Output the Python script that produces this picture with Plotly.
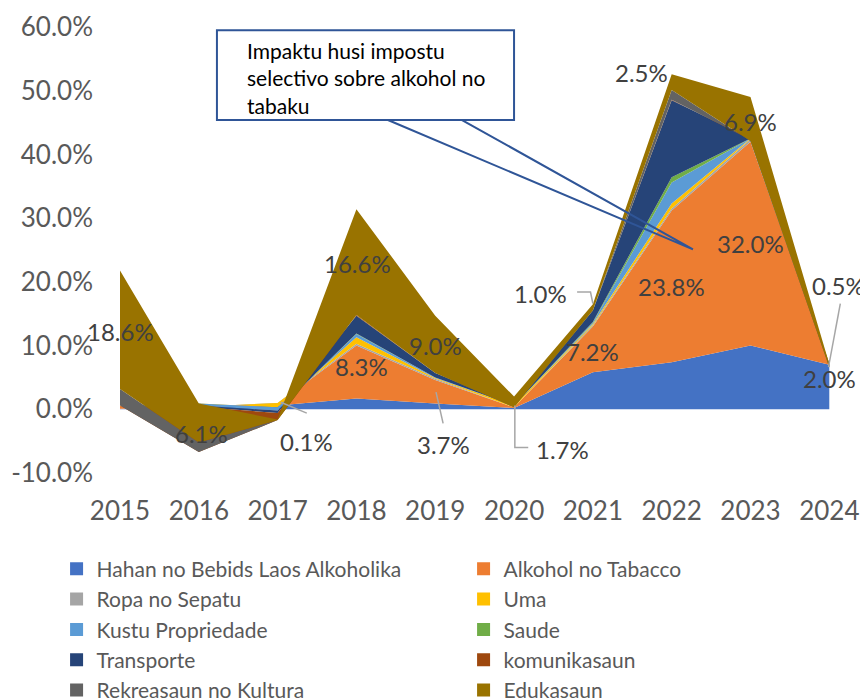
import plotly.graph_objects as go

YEARS = [2015, 2016, 2017, 2018, 2019, 2020, 2021, 2022, 2023, 2024]

# contributions (percentage points), stacked bottom to top
HAHAN = [0.1, 0.2, 0.6, 1.7, 0.9, 0.2, 5.8, 7.4, 10.0, 7.0]
ALKOHOL = [0.4, 0.1, 0.3, 8.3, 3.7, 0.1, 7.2, 23.8, 32.0, 0.0]
ROPA = [0.0, 0.1, 0.1, 0.3, 0.2, 0.0, 0.2, 0.3, 0.4, 0.0]
UMA = [0.0, 0.5, -0.7, 1.0, 0.1, 0.3, 0.2, 0.8, 0.1, 0.2]
KUSTU = [0.0, -0.3, -0.5, 0.5, 0.1, 0.0, 0.2, 3.3, 0.0, 0.0]
SAUDE = [0.0, 0.0, 0.0, 0.1, 0.0, 0.0, 0.1, 0.8, 0.0, 0.0]
TRANSPORTE = [0.0, -0.2, -0.4, 2.8, 0.7, 0.0, 1.8, 12.1, 0.0, 0.0]
KOMUNIKASAUN = [0.1, -7.1, -1.1, 0.1, 0.0, 0.0, 0.0, 0.1, -0.2, 0.0]
REKREASAUN = [2.6, 1.5, 0.0, 0.0, 0.0, -0.3, 0.0, 1.5, -0.2, -0.6]
EDUKASAUN = [18.6, 6.1, 0.1, 16.6, 9.0, 1.7, 1.0, 2.5, 6.9, 0.5]

SERIES_NAMES = ['Hahan no Bebids Laos Alkoholika', 'Alkohol no Tabacco', 'Ropa no Sepatu', 'Uma',
                'Kustu Propriedade', 'Saude', 'Transporte', 'komunikasaun',
                'Rekreasaun no Kultura', 'Edukasaun']
SERIES_VALUES = [HAHAN, ALKOHOL, ROPA, UMA, KUSTU, SAUDE, TRANSPORTE, KOMUNIKASAUN,
                 REKREASAUN, EDUKASAUN]
COLORS = ['#4472C4', '#ED7D31', '#A5A5A5', '#FFC000', '#5B9BD5', '#70AD47', '#264478',
          '#9E480E', '#636363', '#997300']

Y_TICKS = [-10, 0, 10, 20, 30, 40, 50, 60]
Y_TICK_TEXT = ['-10.0%', '0.0%', '10.0%', '20.0%', '30.0%', '40.0%', '50.0%', '60.0%']

NOTE = 'Impaktu husi impostu<br>selectivo sobre alkohol no<br>tabaku'

FONT = 'Lato, Calibri, sans-serif'

# data labels: text, year, value (where the text sits)
LABELS = [
    ('18.6%', 2015.01, 12.2), ('6.1%', 2016.04, -3.8), ('16.6%', 2018.01, 22.9),
    ('8.3%', 2018.07, 6.75), ('9.0%', 2019.0, 10.0), ('7.2%', 2021.0, 9.1),
    ('23.8%', 2022.0, 19.3), ('2.5%', 2021.62, 52.9), ('32.0%', 2023.0, 26.0),
    ('6.9%', 2023.0, 45.2), ('2.0%', 2024.0, 4.9),
    ('0.1%', 2017.37, -5.0), ('3.7%', 2019.1, -5.5), ('1.7%', 2020.62, -6.3),
    ('1.0%', 2020.33, 18.2), ('0.5%', 2024.12, 19.5),
]

# leader lines for moved labels
LEADERS = [
    [(2017.04, 1.1), (2017.37, -0.6)],
    [(2019.01, 2.7), (2019.10, -2.2)],
    [(2020.01, 0.6), (2020.01, -6.0), (2020.18, -6.0)],
    [(2020.80, 18.4), (2020.97, 18.4), (2021.0, 16.6)],
    [(2024.14, 16.6), (2023.99, 6.6)],
]


def path_of(points):
    return 'M' + ' L'.join(f'{x},{y}' for x, y in points)


fig = go.Figure()

for name, values, color in zip(SERIES_NAMES, SERIES_VALUES, COLORS):
    fig.add_trace(go.Scatter(
        x=YEARS, y=values, name=name, stackgroup='one', mode='lines',
        line=dict(width=0, color=color), fillcolor=color, showlegend=False,
        hoverinfo='skip'))

# legend entries with square swatches
for name, color in zip(SERIES_NAMES, COLORS):
    fig.add_trace(go.Scatter(
        x=[None], y=[None], name=name, mode='markers',
        marker=dict(symbol='square', size=13, color=color)))

annotations = []
for text, x, y in LABELS:
    annotations.append(dict(x=x, y=y, xref='x', yref='y', text=text, showarrow=False,
                            font=dict(family=FONT, size=24, color='#404040')))

annotations.append(dict(x=2016.59, y=58.6, xref='x', yref='y', text=NOTE, showarrow=False,
                        xanchor='left', yanchor='top', align='left',
                        font=dict(family=FONT, size=21, color='#000000')))

shapes = []
for pts in LEADERS:
    shapes.append(dict(type='path', path=path_of(pts), xref='x', yref='y',
                       line=dict(color='#A6A6A6', width=1.5)))

shapes.append(dict(type='path', xref='x', yref='y',
                   path=path_of([(2018.40, 45.4), (2022.27, 25.1), (2019.34, 45.4)]),
                   line=dict(color='#2F5597', width=2)))
shapes.append(dict(type='rect', xref='x', yref='y', x0=2016.23, x1=2020.0, y0=45.4, y1=59.5,
                   line=dict(color='#2F5597', width=2), fillcolor='white'))

# the page body adds an 8px offset, margins compensate for it
fig.update_layout(
    width=868, height=699,
    margin=dict(l=112, r=27, t=19, b=234, autoexpand=False),
    paper_bgcolor='white', plot_bgcolor='white',
    font=dict(family=FONT, color='#595959'),
    xaxis=dict(range=[2015, 2024.25], tickvals=YEARS, showgrid=False, zeroline=False,
               showline=False, ticks='', tickfont=dict(size=26, color='#595959'),
               ticklabelstandoff=20, automargin=False),
    yaxis=dict(range=[-10, 60], tickvals=Y_TICKS, ticktext=Y_TICK_TEXT,
               showgrid=False, zeroline=False, showline=False, ticks='',
               tickfont=dict(size=26, color='#595959'), ticklabelstandoff=26,
               automargin=False),
    legend=dict(orientation='h', x=-0.087, xanchor='left', y=-0.1696, yanchor='top',
                entrywidth=362, entrywidthmode='pixels', traceorder='normal',
                font=dict(family=FONT, size=21, color='#595959'),
                bgcolor='rgba(0,0,0,0)', tracegroupgap=0),
    annotations=annotations,
    shapes=shapes,
)

fig.write_html('out.html')
